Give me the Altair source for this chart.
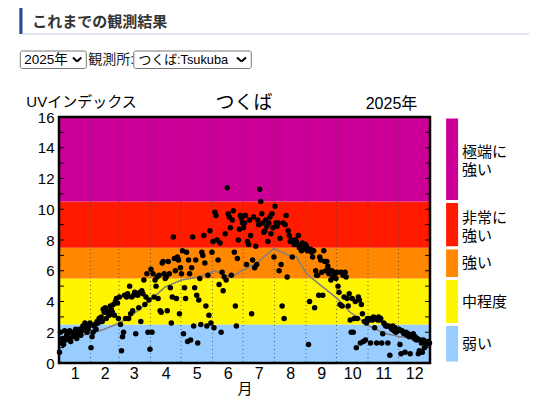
import altair as alt
import pandas as pd

# ---------------- data ----------------
MONTH_LABELS = [str(m) for m in range(1, 13)]
MONTH_START = [1, 32, 60, 91, 121, 152, 182, 213, 244, 274, 305, 335]
MONTH_MID = [16, 45.5, 74, 105.5, 136, 166.5, 197, 228, 258.5, 289, 319.5, 350]

UV_JAN = [0.7, 2.0, 1.3, 1.6, 1.2, 2.1, 1.5, 1.8, 1.9, 1.6, 2.1, 1.4, 2.0, 1.7, 1.9, 1.8,
          2.2, 1.6, 2.0, 1.9, 2.2, 1.8, 2.1, 2.4, 2.3, 2.6, 2.5, 2.0, 2.2, 2.4, 2.6]
UV_FEB = [1.0, 1.7, 2.0, 2.4, 2.5, 2.2, 2.7, 2.6, 2.9, 2.8, 3.0, 2.7, 3.5, 3.3, 3.6, 2.9,
          3.4, 3.2, 3.1, 3.7, 3.5, 3.3, 3.8, 3.1, 4.0, 4.2, 3.9, 2.9]
UV_MAR = [4.3, 2.5, 0.8, 1.7, 2.0, 4.4, 2.9, 4.3, 4.5, 2.9, 5.0, 3.2, 4.3, 3.4, 4.4, 4.6,
          1.9, 4.5, 4.4, 3.6, 4.6, 2.7, 4.7, 4.5, 5.4, 3.8, 4.3, 5.8, 2.0, 4.1, 0.9]
UV_APR = [6.1, 2.0, 5.8, 4.3, 5.4, 5.0, 5.6, 4.2, 5.7, 3.4, 3.3, 6.5, 6.6, 5.8, 5.5, 5.6,
          3.4, 6.6, 5.8, 4.9, 2.6, 4.3, 8.2, 6.8, 6.0, 4.2, 6.9, 6.7, 3.2, 6.2]
UV_MAY = [5.8, 7.3, 1.9, 4.9, 4.2, 7.2, 1.4, 6.7, 5.8, 1.5, 6.2, 8.2, 2.4, 4.9, 6.7, 4.4,
          1.3, 4.1, 5.5, 2.5, 7.2, 7.0, 8.3, 6.5, 3.7, 2.4, 5.7, 3.1, 8.6, 2.6, 7.2]
UV_JUN = [7.9, 2.3, 9.8, 9.6, 8.0, 6.7, 5.1, 7.8, 2.0, 5.9, 4.7, 5.6, 8.4, 5.4, 11.4, 9.7,
          9.5, 8.8, 5.7, 9.3, 9.9, 7.2, 3.7, 2.4, 6.8, 8.0, 8.7, 9.6, 9.4, 9.1]
UV_JUL = [8.8, 9.1, 9.6, 6.4, 7.9, 7.7, 9.3, 8.3, 3.2, 6.7, 9.5, 6.2, 7.6, 6.4, 9.3, 9.0,
          11.3, 10.5, 9.7, 9.1, 8.5, 8.6, 9.3, 8.9, 7.9, 9.1, 9.5, 8.4, 9.7, 8.8, 6.9]
UV_AUG = [10.2, 9.1, 8.9, 9.1, 6.0, 8.1, 6.4, 3.7, 9.1, 2.9, 9.0, 9.6, 5.6, 8.6, 8.3, 7.9,
          8.0, 6.9, 7.9, 7.7, 8.0, 7.9, 7.7, 8.3, 7.5, 7.6, 7.3, 7.8, 7.4, 7.6, 7.7]
UV_SEP = [7.6, 7.3, 1.2, 4.0, 7.4, 7.2, 6.9, 7.3, 3.6, 6.0, 5.7, 5.7, 4.4, 6.9, 6.7, 5.9,
          4.4, 7.3, 6.6, 6.0, 6.6, 6.3, 5.8, 6.0, 5.4, 6.0, 5.6, 5.9, 5.8, 5.5]
UV_OCT = [5.9, 5.0, 4.6, 3.8, 5.9, 3.7, 5.7, 4.3, 5.9, 5.6, 4.2, 3.7, 4.5, 2.8, 2.0, 4.2,
          2.0, 2.9, 4.0, 1.0, 2.9, 4.3, 4.1, 1.3, 3.8, 3.2, 1.4, 2.7, 1.5, 2.6, 2.9]
UV_NOV = [2.9, 2.8, 1.3, 2.9, 2.8, 3.0, 2.3, 2.9, 1.3, 2.8, 3.0, 2.8, 2.9, 1.3, 1.9, 2.6,
          2.5, 2.4, 2.4, 1.3, 2.4, 0.5, 2.3, 2.2, 2.4, 2.1, 2.3, 2.0, 2.2, 2.1]
UV_DEC = [2.2, 1.2, 0.6, 2.1, 2.0, 1.9, 0.7, 2.0, 1.8, 1.9, 1.7, 0.6, 1.8, 1.7, 1.9, 1.6,
          1.7, 1.5, 1.6, 0.6, 0.8, 1.5, 1.3, 0.7, 1.5, 1.0, 1.3, 1.2, 1.4, 1.3, 1.3]
DAILY = [UV_JAN, UV_FEB, UV_MAR, UV_APR, UV_MAY, UV_JUN,
         UV_JUL, UV_AUG, UV_SEP, UV_OCT, UV_NOV, UV_DEC]

CLIM_DAY = [1, 31, 45, 60, 74, 88, 105, 121, 138, 154, 164, 170, 179, 195, 212,
            228, 234, 244, 259, 274, 287, 294, 304, 320, 336, 365]
CLIM_VAL = [1.6, 1.9, 2.2, 2.6, 3.2, 3.95, 4.95, 5.4, 5.6, 6.0, 5.7, 5.6, 5.95, 6.5, 7.45,
            6.95, 6.9, 5.8, 5.0, 4.2, 3.3, 3.0, 2.45, 1.95, 1.7, 1.5]

BAND_LO = [0, 2.5, 5.5, 7.5, 10.5]
BAND_HI = [2.5, 5.5, 7.5, 10.5, 16]
BAND_LABEL = ["弱い", "中程度", "強い", "非常に\n強い", "極端に\n強い"]
BAND_COLOR = ["#99CCFF", "#FFF500", "#FF8800", "#FF1A00", "#CC0099"]

Y_TICKS = list(range(0, 17))
Y_LABELS = list(range(0, 17, 2))

# ---------------- frames ----------------
days, vals = [], []
for m, mv in enumerate(DAILY):
    for i, v in enumerate(mv):
        days.append(MONTH_START[m] + i)
        vals.append(v)
pts = pd.DataFrame({"day": days, "uv": vals})
clim = pd.DataFrame({"day": CLIM_DAY, "uv": CLIM_VAL})
bands = pd.DataFrame({"lo": BAND_LO, "hi": BAND_HI, "label": BAND_LABEL,
                      "mid": [(a + b) / 2 for a, b in zip(BAND_LO, BAND_HI)]})
bands_1 = bands[~bands["label"].str.contains("\n")]
bands_2 = bands[bands["label"].str.contains("\n")]
bounds = pd.DataFrame({"day": [d - 0.5 for d in MONTH_START[1:]]})
ticks = pd.DataFrame({"v": Y_TICKS})
one = pd.DataFrame({"k": [0]})

W, H = 371, 246
FONT = "Liberation Sans, Noto Sans CJK JP"

label_expr = " : ".join(f"datum.value == {v} ? '{l}'" for v, l in zip(MONTH_MID, MONTH_LABELS)) + " : ''"
XSCALE = alt.Scale(domain=[0.5, 365.5], nice=False, zero=False)
YSCALE = alt.Scale(domain=[0, 16], nice=False, zero=False)
XAXIS = alt.Axis(values=MONTH_MID, labelExpr=label_expr, title="月", domain=False, ticks=False,
                 grid=False, labelFontSize=16, titleFontSize=15, labelPadding=2, titlePadding=0,
                 labelFont=FONT, titleFont=FONT, labelColor="#000", titleColor="#000",
                 titleFontWeight="normal", labelFlush=False)
YAXIS = alt.Axis(values=Y_LABELS, title=None, domain=False, ticks=False, grid=False,
                 labelFontSize=15, labelPadding=5, labelFont=FONT, labelColor="#000")


def X(f):
    return alt.X(f, type="quantitative", scale=XSCALE, axis=XAXIS)


def Y(f):
    return alt.Y(f, type="quantitative", scale=YSCALE, axis=YAXIS)


color = alt.Color("label:N", scale=alt.Scale(domain=BAND_LABEL, range=BAND_COLOR), legend=None)

band_layer = alt.Chart(bands).mark_rect().encode(
    x=alt.value(0), x2=alt.value(W), y=Y("lo"), y2="hi", color=color)
grid_layer = alt.Chart(bounds).mark_rule(color="#444", strokeWidth=0.8, strokeDash=[1, 3]).encode(
    x=X("day"))
line_layer = alt.Chart(clim).mark_line(color="#7f7f7f", strokeWidth=1.5).encode(
    x=X("day"), y=Y("uv"))
pt_layer = alt.Chart(pts).mark_circle(size=30, color="black", opacity=1).encode(
    x=X("day"), y=Y("uv"))
tick_l = alt.Chart(ticks).mark_rule(color="black", strokeWidth=1).encode(
    y=Y("v"), x=alt.value(0), x2=alt.value(5))
tick_r = alt.Chart(ticks).mark_rule(color="black", strokeWidth=1).encode(
    y=Y("v"), x=alt.value(W - 5), x2=alt.value(W))
frame = alt.Chart(one).mark_rect(fillOpacity=0, stroke="black", strokeWidth=2.5).encode(
    x=alt.value(0), x2=alt.value(W), y=alt.value(0), y2=alt.value(H))
leg_rect = alt.Chart(bands).mark_rect(stroke="white", strokeWidth=3).encode(
    x=alt.value(385.6), x2=alt.value(400.6), y=Y("lo"), y2="hi", color=color)
leg_text1 = alt.Chart(bands_1).mark_text(align="left", baseline="middle", fontSize=15, font=FONT,
                                         color="#000").encode(
    x=alt.value(403), y=Y("mid"), text="label:N")
leg_text2 = alt.Chart(bands_2).mark_text(align="left", baseline="middle", fontSize=15, font=FONT,
                                         lineBreak="\n", lineHeight=18, dy=-7, color="#000").encode(
    x=alt.value(403), y=Y("mid"), text="label:N")


def txt(s, x, y, size, align="left", weight="normal", color="#000"):
    return alt.Chart(one).mark_text(text=s, align=align, baseline="middle", fontSize=size,
                                    fontWeight=weight, color=color, font=FONT).encode(
        x=alt.value(x), y=alt.value(y))


def seg(x1, y1, x2, y2, color="#000", w=2.0):
    return alt.Chart(one).mark_rule(color=color, strokeWidth=w).encode(
        x=alt.value(x1), y=alt.value(y1), x2=alt.value(x2), y2=alt.value(y2))


def box(x1, y1, x2, y2):
    return alt.Chart(one).mark_rect(fill="white", stroke="#767676", strokeWidth=1,
                                    cornerRadius=2).encode(
        x=alt.value(x1), x2=alt.value(x2), y=alt.value(y1), y2=alt.value(y2))


header_bar = alt.Chart(one).mark_rect(color="#2b4a9b").encode(
    x=alt.value(-39.7), x2=alt.value(-36.5), y=alt.value(-109), y2=alt.value(-83))
header_line = seg(-36.5, -83, 478, -83, color="#d3dcea", w=1.5)
header_txt = txt("これまでの観測結果", -26.7, -95.5, 15, weight="bold", color="#333")

sel1 = box(-38.7, -66, 27.3, -48.5)
sel1_t = txt("2025年", -34.7, -57, 13.5)
chev1 = seg(14, -59.5, 18.1, -55.5) + seg(18.1, -55.5, 22.3, -59.5)
obs_t = txt("観測所:", 29.3, -57, 14, color="#222")
sel2 = box(74.8, -66, 192.3, -48.5)
sel2_t = txt("つくば:Tsukuba", 79.6, -57, 12.8)
chev2 = seg(178, -59.5, 182.5, -55.5) + seg(182.5, -55.5, 187, -59.5)

uv_t = txt("UVインデックス", -32.7, -15, 15)
title_t = txt("つくば", 185, -14, 19, align="center")
year_t = txt("2025年", 358.3, -13, 16, align="right")

chart = alt.layer(
    band_layer, grid_layer, line_layer, pt_layer, tick_l, tick_r, frame,
    leg_rect, leg_text1, leg_text2,
    header_bar, header_line, header_txt,
    sel1, sel1_t, chev1, obs_t, sel2, sel2_t, chev2,
    uv_t, title_t, year_t,
).properties(
    width=W, height=H,
    autosize=alt.AutoSizeParams(type="none"),
    padding={"left": 51, "top": 109, "right": 99, "bottom": 33},
    background="white",
).configure_view(strokeWidth=0)

chart.save("out.html", embed_options={"renderer": "svg", "actions": False})
